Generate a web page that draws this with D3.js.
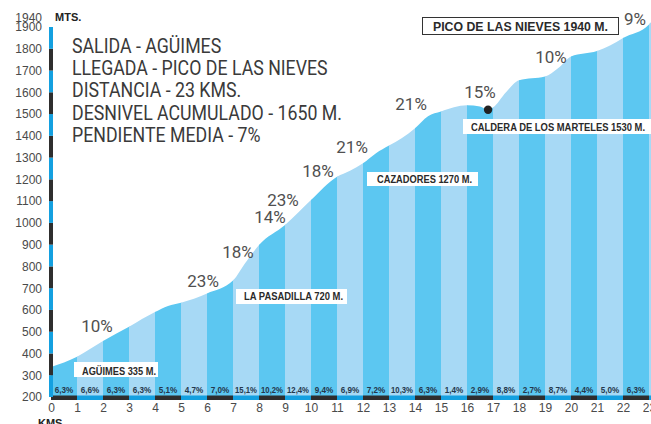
<!DOCTYPE html>
<html><head><meta charset="utf-8">
<script src="https://cdn.jsdelivr.net/npm/d3@7/dist/d3.min.js"></script>
<style>html,body{margin:0;padding:0;background:#fff}svg{display:block}</style>
</head><body><svg id="c" width="651" height="424"></svg>
<script>
// ---- data ----
const profileKm   = [0, 0.5, 1, 2, 3, 4, 4.5, 5, 6, 7, 7.5, 8, 9, 10, 11, 11.5, 12, 12.5, 13, 13.5, 14, 14.5, 15, 16, 16.5, 16.8, 17, 17.5, 18, 19, 19.5, 20, 21, 21.5, 22, 23, 23.1];
const profileElev = [338, 358, 385, 457, 523, 590, 618, 633, 676, 735, 820, 898, 990, 1105, 1212, 1240, 1274, 1320, 1355, 1390, 1435, 1490, 1512, 1540, 1535, 1520, 1530, 1600, 1655, 1672, 1710, 1765, 1790, 1815, 1850, 1912, 1925];
const kmTicks = d3.range(0, 24);
const elevTicks = d3.range(200, 2000, 100);
const gradeLabels = ["6,3%","6,6%","6,3%","6,3%","5,1%","4,7%","7,0%","15,1%","10,2%","12,4%","9,4%","6,9%","7,2%","10,3%","6,3%","1,4%","2,9%","8,8%","2,7%","8,7%","4,4%","5,0%","6,3%"];
const climbLabels = ["10%","23%","18%","14%","23%","18%","21%","21%","15%","10%","9%"];
const climbKm     = [1.77, 5.85, 7.19, 8.42, 8.92, 10.27, 11.58, 13.85, 16.5, 19.23, 22.46];
const climbElev   = [499, 705, 839, 999, 1078, 1209, 1322, 1519, 1575, 1736, 1909];
const places = ["AGÜIMES 335 M.","LA PASADILLA 720 M.","CAZADORES 1270 M.","CALDERA DE LOS MARTELES 1530 M.","PICO DE LAS NIEVES 1940 M."];
const infoLines = ["SALIDA - AGÜIMES","LLEGADA - PICO DE LAS NIEVES","DISTANCIA - 23 KMS.","DESNIVEL ACUMULADO - 1650 M.","PENDIENTE MEDIA - 7%"];
const calderaKm = 16.81, calderaElev = 1520;

// ---- layout ----
const svg = d3.select("#c");
const x = d3.scaleLinear().domain([0, 23]).range([51, 649]);
const y = d3.scaleLinear().domain([200, 1900]).range([397, 27]);
const bandDark = "#5cc7f1", bandLight = "#a7d9f5";
const axisBlue = "#14a0e0", axisDark = "#2e2e2e";

svg.append("rect").attr("width",651).attr("height",424).attr("fill","#fff");

const pts = profileKm.map((k,i)=>[k, profileElev[i]]);
const area = d3.area().x(d=>x(d[0])).y0(y(200)).y1(d=>y(d[1])).curve(d3.curveMonotoneX);
svg.append("clipPath").attr("id","prof").append("path").attr("d", area(pts));

svg.append("g").attr("clip-path","url(#prof)")
  .selectAll("rect").data(kmTicks).join("rect")
  .attr("x", d=>x(d)).attr("width", d=>x(d+1)-x(d)+0.5)
  .attr("y", y(1950)).attr("height", y(200)-y(1950))
  .attr("fill", d=> d%2===0 ? bandDark : bandLight);

// bottom km bar
svg.append("g").selectAll("rect").data(kmTicks).join("rect")
  .attr("x", d=>x(d)).attr("width", d=>x(d+1)-x(d))
  .attr("y", 395.5).attr("height", 4.5)
  .attr("fill", d=> d%2===0 ? axisDark : axisBlue);

// left elevation bar
svg.append("g").selectAll("rect").data(elevTicks.slice(0,-1)).join("rect")
  .attr("x", 49).attr("width", 4)
  .attr("y", d=>y(Math.min(d+100,1920))).attr("height", d=>y(d)-y(Math.min(d+100,1920)))
  .attr("fill", d=> ((d-200)/100)%2===0 ? axisBlue : axisDark);

// grade labels in bands
svg.append("g").selectAll("text").data(gradeLabels).join("text")
  .attr("x", (d,i)=>x(i+0.5)).attr("y", 392.5)
  .attr("text-anchor","middle")
  .attr("font-family","Liberation Sans, Arial, sans-serif").attr("font-weight","bold")
  .attr("font-size", 9.5).attr("fill","#24384c")
  .attr("textLength", d=> d.length>4 ? 22 : 18.5).attr("lengthAdjust","spacingAndGlyphs")
  .text(d=>d);

// axes
const fmt = d3.format("d");
const yAxis = d3.axisLeft(y).tickValues(elevTicks.filter(v=>v<=1900)).tickFormat(fmt).tickSize(0).tickPadding(3);
const gy = svg.append("g").attr("transform","translate(45,0)").call(yAxis);
gy.select(".domain").remove();
gy.selectAll("text").attr("font-family","Liberation Sans, Arial, sans-serif").attr("font-size",12).attr("fill","#4a4a4a");
svg.append("text").attr("x",42).attr("y",y(1940)+4).attr("text-anchor","end")
  .attr("font-family","Liberation Sans, Arial, sans-serif").attr("font-size",12).attr("fill","#4a4a4a").text("1940");

const xAxis = d3.axisBottom(x).tickValues(kmTicks).tickFormat(fmt).tickSize(0).tickPadding(3);
const gx = svg.append("g").attr("transform","translate(0,400)").call(xAxis);
gx.select(".domain").remove();
gx.selectAll("text").attr("font-family","Liberation Sans, Arial, sans-serif").attr("font-size",12).attr("fill","#4a4a4a");

svg.append("text").attr("x",55).attr("y",21).attr("font-family","Liberation Sans, Arial, sans-serif")
  .attr("font-weight","bold").attr("font-size",11).attr("fill","#222").text("MTS.");
svg.append("text").attr("x",38).attr("y",427).attr("font-family","Liberation Sans, Arial, sans-serif")
  .attr("font-weight","bold").attr("font-size",11).attr("fill","#222").text("KMS.");

// climb percentage labels
svg.append("g").selectAll("text").data(climbLabels).join("text")
  .attr("x",(d,i)=>x(climbKm[i])).attr("y",(d,i)=>y(climbElev[i]))
  .attr("text-anchor","middle").attr("font-family","Roboto, sans-serif").attr("font-weight",400)
  .attr("font-size",17).attr("fill","#505050").text(d=>d);

// caldera dot
svg.append("circle").attr("cx",x(calderaKm)).attr("cy",y(calderaElev)).attr("r",4.2).attr("fill","#222");

// place labels
const placeLayout = [
  {bx:74, by:362, bw:84, bh:15, tx:82, ty:374.5, tw:74, fs:10},
  {bx:236, by:289, bw:111, bh:15, tx:244, ty:300, tw:99, fs:10},
  {bx:367, by:172, bw:111, bh:14, tx:377, ty:183, tw:95, fs:10},
  {bx:463, by:119, bw:188, bh:15, tx:471, ty:131, tw:174, fs:10},
  {bx:422.5, by:17.5, bw:196, bh:17, tx:433, ty:31, tw:175, fs:13}
];
places.forEach((p,i)=>{
  const L = placeLayout[i];
  const r = svg.append("rect").attr("x",L.bx).attr("y",L.by).attr("width",L.bw).attr("height",L.bh).attr("fill","#fff");
  if(i===4) r.attr("stroke","#333").attr("stroke-width",1);
  svg.append("text").attr("x",L.tx).attr("y",L.ty).attr("font-family","Liberation Sans, Arial, sans-serif")
    .attr("font-weight","bold").attr("font-size",L.fs).attr("fill","#2a2a2a")
    .attr("textLength",L.tw).attr("lengthAdjust","spacingAndGlyphs").text(p);
});

// info block
const info = svg.append("g");
const lines = info.selectAll("text").data(infoLines).join("text")
  .attr("x",0).attr("y",(d,i)=>i*22.1)
  .attr("font-family","Roboto, sans-serif").attr("font-size",21).attr("fill","#3a3a3a").text(d=>d);
let maxW = 0; lines.each(function(){ maxW = Math.max(maxW, this.getComputedTextLength()); });
const sx = 270 / maxW;
info.attr("transform",`translate(72,53.3) scale(${sx},1)`);
</script></body></html>
